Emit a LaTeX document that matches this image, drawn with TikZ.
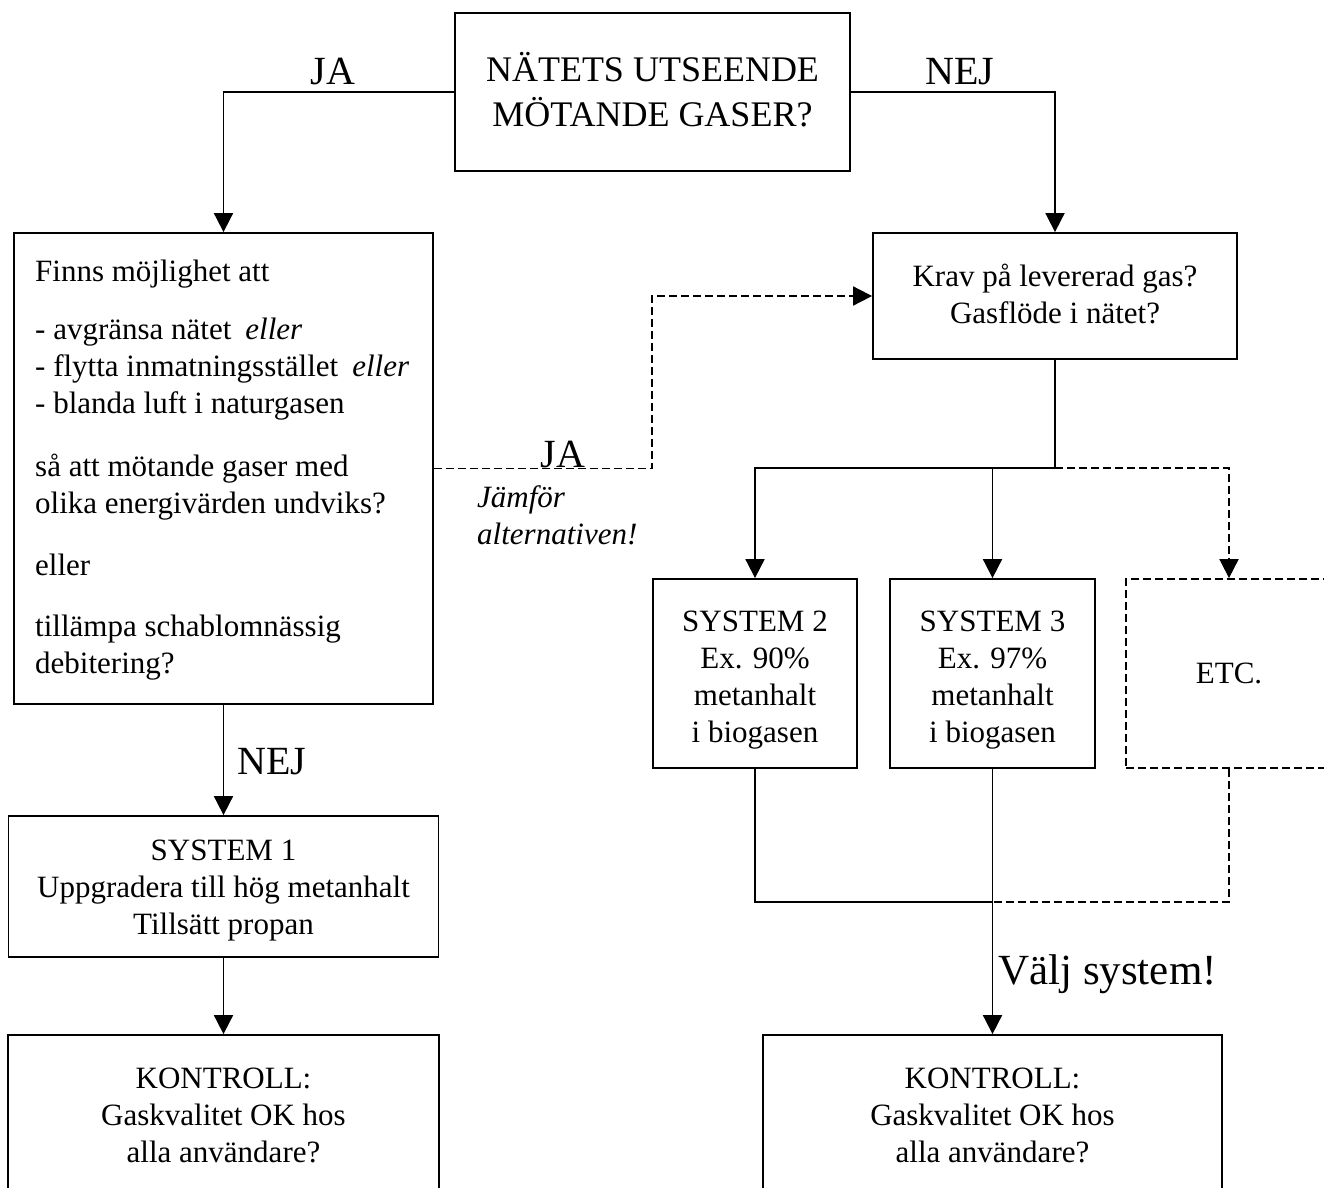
\documentclass[tikz,border=0pt]{standalone}
\usepackage{fontspec}
\setmainfont{Liberation Serif}
\usetikzlibrary{arrows.meta}

% font sizes used in the chart
\newcommand\fbody{\fontsize{31}{37}\selectfont}
\newcommand\ftop{\fontsize{36}{45}\selectfont}
\newcommand\flabel{\fontsize{40}{46}\selectfont}
\newcommand\fbig{\fontsize{43}{50}\selectfont}
% centred lines, set a little lower inside their box
\newcommand\lowlines[2]{\raisebox{-#1}[\height][\depth]{\begin{tabular}{@{}c@{}}#2\end{tabular}}}

\begin{document}
\begin{tikzpicture}[x=1pt, y=-1pt,
  conn/.style={line width=1.8pt},
  arr/.style={conn, -{Triangle[width=19pt,length=19pt]}},
  dsh/.style={dash pattern=on 8pt off 4pt},
  box/.style={draw, line width=1.8pt, inner sep=0pt, align=center, font=\fbody},
  lbl/.style={inner sep=0pt, font=\flabel},
]
\useasboundingbox (0,0) rectangle (1324,1187);

% --- boxes ---
\node[box, font=\ftop, minimum width=395pt, minimum height=158pt] (top) at (652.5,92)
  {\lowlines{3pt}{NÄTETS UTSEENDE\\MÖTANDE GASER?}};

\node[box, minimum width=419pt, minimum height=471pt] (lbox) at (223.5,468.5) {};
\node[anchor=north west, inner sep=0pt, align=left, font=\fbody] (ltext) at (35,260)
  {Finns möjlighet att\\[21pt]
   - avgränsa nätet\hspace{14pt}\textit{eller}\\
   - flytta inmatningsstället\hspace{14pt}\textit{eller}\\
   - blanda luft i naturgasen\\[26pt]
   så att mötande gaser med\\
   olika energivärden undviks?\\[25pt]
   eller\\[24pt]
   tillämpa schablomnässig\\
   debitering?};

\node[box, minimum width=364pt, minimum height=126pt] (krav) at (1055,296)
  {\lowlines{2pt}{Krav på levererad gas?\\Gasflöde i nätet?}};

\node[box, minimum width=204pt, minimum height=189pt] (s2) at (755,673.5)
  {\lowlines{6pt}{SYSTEM 2\\Ex. 90\%\\metanhalt\\i biogasen}};
\node[box, minimum width=205pt, minimum height=189pt] (s3) at (992.5,673.5)
  {\lowlines{6pt}{SYSTEM 3\\Ex. 97\%\\metanhalt\\i biogasen}};
\node[box, dsh, minimum width=206pt, minimum height=189pt] (etc) at (1229,673.5)
  {\lowlines{3pt}{ETC.}};

\node[box, minimum width=430pt, minimum height=141pt] (s1) at (223.5,886.5)
  {\lowlines{4pt}{SYSTEM 1\\Uppgradera till hög metanhalt\\Tillsätt propan}};

\node[box, minimum width=431pt, minimum height=160pt] (kl) at (223.5,1115)
  {KONTROLL:\\Gaskvalitet OK hos\\alla användare?};
\node[box, minimum width=459pt, minimum height=160pt] (kr) at (992.5,1115)
  {KONTROLL:\\Gaskvalitet OK hos\\alla användare?};

% --- connectors ---
\draw[arr] (top.west) -| (lbox.north);
\draw[arr] (top.east) -| (krav.north);

\coordinate (bend) at (652,400);
\draw[arr, dsh] (lbox.east) -| (bend) |- (krav.west);

\coordinate (split) at (1055,468);
\draw[conn] (krav.south) -- (split);
\draw[arr] (split) -| (s2.north);
\draw[arr] (s3.north |- split) -- (s3.north);
\draw[arr, dsh] (split) -| (etc.north);

\coordinate (join) at (992.5,902);
\draw[conn] (s2.south) |- (join);
\draw[conn, dsh] (etc.south) |- (join);
\draw[arr] (s3.south) -- (kr.north);

\draw[arr] (lbox.south) -- (s1.north);
\draw[arr] (s1.south) -- (kl.north);

% --- labels ---
\node[lbl, anchor=base] (ja1) at (333,84) {JA};
\node[lbl, anchor=base] (nej1) at (960,84) {NEJ};
\node[lbl, anchor=base] (ja2) at (563,467) {JA};
\node[anchor=north west, inner sep=0pt, align=left, font=\fbody\itshape] (cmp) at (477,485)
  {Jämför\\alternativen!};
\node[lbl, anchor=base west] (nej2) at (237,774) {NEJ};
\node[inner sep=0pt, font=\fbig, anchor=base west] (valj) at (998,984) {Välj system!};
\end{tikzpicture}
\end{document}
